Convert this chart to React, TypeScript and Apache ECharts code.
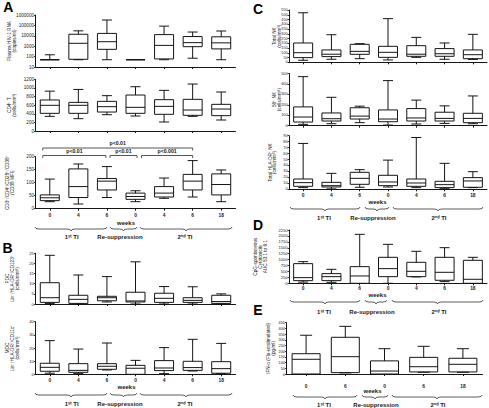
import React, { useEffect, useRef } from 'react';
import * as echarts from 'echarts';

// ---------- DATA ----------
const weeksSeven = ['0', '4', '6', '0', '4', '6', '18'];
const weeksFive = ['0', '6', '0', '6', '18'];
const groupNames = ['1ˢᵗ TI', 'Re-suppression', '2ⁿᵈ TI'];

// every row: [min, Q1, median, Q3, max]
const plasmaRna = [
  [50, 50, 50, 50, 150],
  [50, 55, 1900, 14000, 30000],
  [50, 500, 2700, 17000, 330000],
  [50, 50, 50, 50, 50],
  [50, 60, 1200, 13000, 85000],
  [70, 900, 2200, 8500, 23000],
  [50, 550, 2100, 8000, 29000],
];
const cd4T = [
  [340, 410, 596, 720, 925],
  [286, 410, 596, 665, 965],
  [378, 440, 565, 688, 820],
  [348, 410, 549, 835, 1028],
  [209, 387, 572, 727, 944],
  [340, 364, 487, 735, 1090],
  [255, 356, 510, 619, 905],
];
const cd38Mfi = [
  [27, 31, 42, 53, 114],
  [18, 43, 85, 153, 172],
  [43, 72, 106, 116, 162],
  [27, 36, 47, 60, 69],
  [40, 45, 60, 85, 118],
  [45, 72, 106, 132, 185],
  [27, 53, 93, 134, 149],
];
const pdc = [
  [0.3, 0.8, 3.1, 10.5, 24],
  [0, 0.3, 2.3, 4.3, 14.3],
  [1.0, 1.6, 3.1, 3.8, 13.5],
  [0, 1.0, 1.5, 5.8, 20.8],
  [0, 0.8, 2.8, 5.3, 8.6],
  [0, 0.8, 1.8, 3.1, 8.5],
  [0, 0.3, 1.2, 4.3, 5.0],
];
const mdc = [
  [0.8, 2.3, 5.3, 8.4, 25.6],
  [0.5, 1.5, 3.0, 8.1, 19.2],
  [3.3, 3.8, 6.1, 8.1, 23.8],
  [0, 0, 4.6, 6.8, 10.6],
  [0.5, 2.8, 4.8, 10.4, 20.3],
  [2.5, 3.0, 5.1, 9.9, 26.6],
  [0.5, 0.8, 4.3, 9.6, 23.5],
];
const totalNk = [
  [21, 49, 101, 203, 521],
  [32, 60, 85, 130, 290],
  [38, 84, 115, 189, 196],
  [25, 52, 105, 168, 459],
  [52, 63, 85, 175, 262],
  [32, 63, 90, 144, 203],
  [30, 38, 80, 130, 294],
];
const nk56 = [
  [13, 35, 83, 180, 470],
  [19, 45, 67, 122, 272],
  [29, 64, 92, 172, 187],
  [6, 38, 64, 151, 432],
  [16, 45, 74, 164, 245],
  [22, 45, 70, 129, 190],
  [19, 29, 70, 119, 285],
];
const hlaDrNk = [
  [2.8, 5, 11.2, 17.3, 77],
  [0.6, 3.9, 6.1, 11.7, 26.8],
  [3.4, 8.4, 18.4, 28.5, 33],
  [3.9, 6.1, 12.3, 23.5, 49],
  [2.8, 5, 10.6, 17.3, 87],
  [1.7, 2.8, 7.8, 13.4, 43.6],
  [2.8, 3.4, 14, 19.6, 29.6],
];
const cytotox = [
  [50, 112, 239, 830, 914],
  [42, 112, 281, 408, 590],
  [0, 0, 309, 703, 2067],
  [0, 281, 619, 1097, 1645],
  [270, 281, 506, 886, 1350],
  [70, 127, 464, 1097, 1504],
  [0, 0, 169, 970, 1097],
];
const ifnAlpha = [
  [0, 0, 129, 178, 340],
  [10, 12, 152, 322, 418],
  [0, 0, 26, 115, 222],
  [15, 18, 64, 146, 243],
  [15, 18, 85, 138, 222],
];

// significance brackets on the CD38 panel: [fromIndex, toIndex, label, row]
const pBrackets: [number, number, string, number][] = [
  [0, 5, 'p<0.01', 0],
  [0, 2, 'p<0.01', 1],
  [2, 3, 'p<0.01', 1],
  [3, 5, 'p<0.001', 1],
];

// ---------- LAYOUT / STYLE ----------
const FONT = '"Liberation Sans", Arial, Helvetica, sans-serif';
const INK = '#151515';

const PANELS: any[] = [
  { data: plasmaRna, cats: weeksSeven, left: 35.5, width: 200, top: 15, height: 52, log: true, min: 10, max: 1000000,
    name: ['Plasma HIV-1 RNA', '(copies/ml)'], nameX: [9, 14.5], tickFont: 4.6 },
  { data: cd4T, cats: weeksSeven, left: 35.5, width: 200, top: 79.3, height: 51.7, min: 0, max: 1200, interval: 200,
    name: ['CD4⁺ T', '(cells/mm³)'], nameX: [9, 14.5], tickFont: 4.6 },
  { data: cd38Mfi, cats: weeksSeven, left: 35.5, width: 200, top: 156.7, height: 52, min: 0, max: 200, interval: 50,
    name: ['CD3⁺/CD4⁺/CD28⁺/CD38⁺', '(CD38 MFI)'], nameX: [7, 12.5], tickFont: 4.6, showX: true, labelMargin: 4.5 },
  { data: pdc, cats: weeksSeven, left: 35.5, width: 200, top: 253.3, height: 50.7, min: 0, max: 25, interval: 5,
    name: ['PDC', 'Lin⁻/HLA-DR⁺/CD123⁺', '(cells/mm³)'], nameX: [7, 12, 17], tickFont: 4.3 },
  { data: mdc, cats: weeksSeven, left: 35.5, width: 200, top: 321.7, height: 52.6, min: 0, max: 40, interval: 10,
    name: ['MDC', 'Lin⁻/HLA-DR⁺/CD11c⁺', '(cells/mm³)'], nameX: [7, 12, 17], tickFont: 4.3, showX: true, labelMargin: 4 },
  { data: totalNk, cats: weeksSeven, left: 289, width: 198, top: 10, height: 52.3, min: 0, max: 550, interval: 50,
    name: ['Total NK', '(cells/mm³)'], nameX: [274.5, 279], tickFont: 3.7 },
  { data: nk56, cats: weeksSeven, left: 289, width: 198, top: 73.5, height: 52.2, min: 0, max: 500, interval: 100,
    name: ['56⁺ NK', '(cells/mm³)'], nameX: [274.5, 279], tickFont: 3.8 },
  { data: hlaDrNk, cats: weeksSeven, left: 289, width: 198, top: 135.7, height: 53.6, min: 0, max: 90, interval: 10,
    name: ['Total HLA-DR⁺ NK', '(cells/mm³)'], nameX: [270, 274.5], tickFont: 3.8, showX: true, labelMargin: 4 },
  { data: cytotox, cats: weeksSeven, left: 289, width: 198, top: 230, height: 53.3, min: 0, max: 2250, interval: 250,
    name: ['CpG-spontaneous', 'Cytotoxicity', 'AUC 50:1 to 6:1'], nameX: [255.5, 260.5, 265.5], tickFont: 4, showX: true, labelMargin: 2.5 },
  { data: ifnAlpha, cats: weeksFive, left: 286.5, width: 196, top: 322.7, height: 51.3, min: 0, max: 450, interval: 50,
    name: ['IFN-α (Flu-unstimulated)', '(pg/ml)'], nameX: [268, 273], tickFont: 3.9, showX: true, labelMargin: 10, box: 28, cap: 12 },
];

const SECTIONS = [
  { weeks: [126, 222.5], braceY: 227, braces: [[35, 107], [110, 137], [140, 232]], groupY: 236.5, groupX: [71.7, 120, 185] },
  { weeks: [126.5, 386.7], braceY: 393, braces: [[35, 107], [110, 137], [140, 232]], groupY: 404, groupX: [71.7, 120, 185] },
  { weeks: [377.5, 201.7], braceY: 207, braces: [[290, 360], [365, 389], [393, 483]], groupY: 218.3, groupX: [324, 373, 439] },
  { weeks: [377.5, 295], braceY: 300, braces: [[290, 360], [365, 387], [392, 483]], groupY: 311.7, groupX: [324, 372, 439] },
  { weeks: [372.5, 390.7], braceY: 395, braces: [[293, 357], [362, 388], [392, 482]], groupY: 405, groupX: [324, 376, 438] },
];

const LETTERS: [string, number, number][] = [
  ['A', 8.3, 7], ['B', 7.5, 248], ['C', 258, 8.5], ['D', 258, 225], ['E', 258, 310],
];

const bracketRows = [148, 155.5];
const bracketPads = [[-7, 0], [-7, -1], [3, 1.5], [6, 0]];

// curly brace shape
const Brace = (echarts as any).graphic.extendShape({
  type: 'brace',
  shape: { x1: 0, x2: 100, y: 0, h: 4 },
  buildPath(ctx: any, s: any) {
    const m = (s.x1 + s.x2) / 2;
    const h = s.h / 2;
    const r = Math.min(4, (s.x2 - s.x1) / 4);
    ctx.moveTo(s.x1, s.y);
    ctx.quadraticCurveTo(s.x1, s.y + h, s.x1 + r, s.y + h);
    ctx.lineTo(m - r, s.y + h);
    ctx.quadraticCurveTo(m, s.y + h, m, s.y + 2 * h);
    ctx.moveTo(m, s.y + 2 * h);
    ctx.quadraticCurveTo(m, s.y + h, m + r, s.y + h);
    ctx.lineTo(s.x2 - r, s.y + h);
    ctx.quadraticCurveTo(s.x2, s.y + h, s.x2, s.y);
  },
});
(echarts as any).graphic.registerShape('brace', Brace);

function txt(text: string, x: number, y: number, size: number, bold = false, rotate = false, color = '#1a1a1a') {
  return {
    type: 'text', x, y, rotation: rotate ? Math.PI / 2 : 0, silent: true,
    style: {
      text, x: 0, y: 0, fontSize: size, fontFamily: FONT, fontWeight: bold ? 'bold' : 'normal', fill: color,
      align: 'center', verticalAlign: 'middle', textAlign: 'center', textVerticalAlign: 'middle',
    },
  };
}

export default function App() {
  const ref = useRef<HTMLDivElement>(null);
  useEffect(() => {
    if (!ref.current) return;
    const chart = echarts.init(ref.current, undefined, { renderer: 'svg' });

    const grid = PANELS.map((p) => ({ left: p.left, top: p.top, width: p.width, height: p.height, containLabel: false }));
    const xAxis = PANELS.map((p, i) => ({
      type: 'category', gridIndex: i, data: p.cats, boundaryGap: true,
      axisLine: { show: true, onZero: false, lineStyle: { color: INK, width: 1 } },
      axisTick: { show: true, alignWithLabel: true, length: 2, lineStyle: { color: INK, width: 1 } },
      axisLabel: { show: !!p.showX, margin: p.labelMargin || 4, fontSize: 4.9, fontWeight: 'bold', color: '#1a1a1a', fontFamily: FONT },
      splitLine: { show: false },
    }));
    const yAxis = PANELS.map((p, i) => ({
      type: p.log ? 'log' : 'value', gridIndex: i, min: p.min, max: p.max,
      ...(p.log ? { logBase: 10 } : { interval: p.interval }),
      axisLine: { show: true, lineStyle: { color: INK, width: 1 } },
      axisTick: { show: true, length: 1.5, lineStyle: { color: INK, width: 0.8 } },
      axisLabel: {
        fontSize: p.tickFont, margin: 1.5, color: '#1a1a1a', fontFamily: FONT,
        formatter: (v: number) => String(Math.round(v)),
      },
      splitLine: { show: false },
    }));

    const series = PANELS.map((p, i) => {
      const boxW = p.box || 19;
      const capW = p.cap || 10;
      return {
        type: 'custom', xAxisIndex: i, yAxisIndex: i, clip: false,
        data: p.data.map((d: number[], k: number) => [k, ...d]),
        encode: { x: 0, y: [1, 2, 3, 4, 5] },
        renderItem: (params: any, api: any) => {
          const k = api.value(0);
          const vals = [1, 2, 3, 4, 5].map((j) => api.value(j));
          const pts = vals.map((v) => api.coord([k, v]));
          const x = pts[0][0];
          const [yMn, yQ1, yMd, yQ3, yMx] = pts.map((q: number[]) => q[1]);
          const hb = boxW / 2, hc = capW / 2;
          const st = { stroke: INK, lineWidth: 1, fill: 'none' };
          const ln = (x1: number, y1: number, x2: number, y2: number) => ({ type: 'line', shape: { x1, y1, x2, y2 }, style: st });
          const children: any[] = [];
          if (yMx < yQ3 - 0.1) { children.push(ln(x, yQ3, x, yMx)); }
          if (yMx < yQ3 - 0.1 || vals[4] > vals[3]) children.push(ln(x - hc, yMx, x + hc, yMx));
          if (yMn > yQ1 + 0.1) { children.push(ln(x, yQ1, x, yMn)); children.push(ln(x - hc, yMn, x + hc, yMn)); }
          children.push({ type: 'rect', shape: { x: x - hb, y: yQ3, width: boxW, height: Math.max(0, yQ1 - yQ3) }, style: st });
          children.push(ln(x - hb, yMd, x + hb, yMd));
          return { type: 'group', children };
        },
      };
    });

    chart.setOption({ animation: false, backgroundColor: '#fff', grid, xAxis, yAxis, series });

    // ----- decorations -----
    const g: any[] = [];
    LETTERS.forEach(([t, x, y]) => g.push(txt(t, x, y, 14, true, false, '#000')));
    PANELS.forEach((p) => {
      const cy = p.top + p.height / 2;
      p.name.forEach((line: string, j: number) => g.push(txt(line, p.nameX[j], cy, 4.7, false, true)));
    });
    SECTIONS.forEach((s) => {
      g.push(txt('weeks', s.weeks[0], s.weeks[1], 6, true));
      s.braces.forEach(([a, b]) => g.push({
        type: 'brace', silent: true, shape: { x1: a, x2: b, y: s.braceY, h: 4 },
        style: { stroke: '#333', fill: 'none', lineWidth: 0.8 },
      }));
      groupNames.forEach((n, j) => g.push(txt(n, s.groupX[j], s.groupY, 6, true)));
    });
    pBrackets.forEach(([from, to, label, row], j) => {
      const xa = (chart.convertToPixel({ xAxisIndex: 2 } as any, from) as any) + bracketPads[j][0];
      const xb = (chart.convertToPixel({ xAxisIndex: 2 } as any, to) as any) + bracketPads[j][1];
      const y = bracketRows[row];
      const st = { stroke: '#555', lineWidth: 1 };
      g.push({ type: 'line', silent: true, shape: { x1: xa, y1: y, x2: xb, y2: y }, style: st });
      g.push({ type: 'line', silent: true, shape: { x1: xa, y1: y, x2: xa, y2: y + 2.5 }, style: st });
      g.push({ type: 'line', silent: true, shape: { x1: xb, y1: y, x2: xb, y2: y + 2.5 }, style: st });
      g.push(txt(label, (xa + xb) / 2, y - 5, 5.2, true));
    });
    chart.setOption({ graphic: { elements: g } });

    return () => chart.dispose();
  }, []);

  return <div ref={ref} style={{ position: 'fixed', left: 0, top: 0, width: 489, height: 408, background: '#fff' }} />;
}
